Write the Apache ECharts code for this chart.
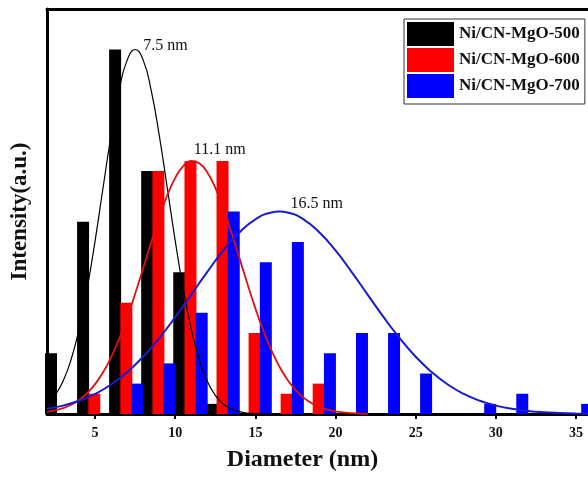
<!DOCTYPE html>
<html>
<head>
<meta charset="utf-8">
<script src="https://cdn.jsdelivr.net/npm/echarts@6/dist/echarts.min.js"></script>
<style>
  html, body { margin: 0; padding: 0; background: #fff; }
  #chart { width: 588px; height: 480px; }
</style>
</head>
<body>
<div id="chart"></div>
<script>
// ---- data ----
const seriesNames = ['Ni/CN-MgO-500', 'Ni/CN-MgO-600', 'Ni/CN-MgO-700'];
const xTicks = [5, 10, 15, 20, 25, 30, 35];

const blackX = [2.25, 4.25, 6.25, 8.25, 10.25, 12.25];
const blackY = [6, 19, 36, 24, 14, 1];
const redX = [4.95, 6.95, 8.95, 10.95, 12.95, 14.95, 16.95, 18.95];
const redY = [2, 11, 24, 25, 25, 8, 2, 3];
const blueX = [7.65, 9.65, 11.65, 13.65, 15.65, 17.65, 19.65, 21.65, 23.65, 25.65, 27.65, 29.65, 31.65, 33.65, 35.7];
const blueY = [3, 5, 10, 20, 15, 17, 6, 8, 8, 4, 0, 1, 2, 0, 1];

// fitted curves
const blackCurveX = [2, 2.5, 3, 3.5, 4, 4.5, 5, 5.5, 6, 6.5, 7, 7.5, 8, 8.5, 9, 9.5, 10, 10.5, 11, 11.5, 12, 12.5, 13, 13.5, 14, 14.5, 15, 16];
const blackCurveY = [0.98, 1.84, 3.24, 5.36, 8.39, 12.34, 17.1, 22.37, 27.55, 31.97, 34.95, 36, 34.95, 31.97, 27.55, 22.37, 17.1, 12.34, 8.39, 5.36, 3.24, 1.84, 0.98, 0.49, 0.23, 0.1, 0.04, 0.01];
const redCurveX = [2, 2.5, 3, 3.5, 4, 4.5, 5, 5.5, 6, 6.5, 7, 7.5, 8, 8.5, 9, 9.5, 10, 10.5, 11, 11.5, 12, 12.5, 13, 13.5, 14, 14.5, 15, 15.5, 16, 16.5, 17, 17.5, 18, 18.5, 19, 19.5, 20, 20.5, 21, 22];
const redCurveY = [0.21, 0.36, 0.58, 0.91, 1.38, 2.05, 2.95, 4.12, 5.61, 7.41, 9.52, 11.87, 14.39, 16.95, 19.4, 21.58, 23.32, 24.49, 24.99, 24.77, 23.86, 22.34, 20.32, 17.96, 15.42, 12.87, 10.43, 8.22, 6.29, 4.68, 3.38, 2.38, 1.62, 1.08, 0.69, 0.43, 0.26, 0.16, 0.09, 0.02];
const blueCurveX = [2, 3, 4, 5, 6, 7, 8, 9, 10, 11, 12, 13, 14, 15, 16, 16.5, 17, 18, 19, 20, 21, 22, 23, 24, 25, 26, 27, 28, 29, 30, 31, 32, 33, 34, 35, 35.75];
const blueCurveY = [0.51, 0.83, 1.31, 1.98, 2.91, 4.13, 5.66, 7.49, 9.56, 11.79, 14.04, 16.15, 17.93, 19.23, 19.91, 20, 19.91, 19.23, 17.93, 16.15, 14.04, 11.79, 9.56, 7.49, 5.66, 4.13, 2.91, 1.98, 1.31, 0.83, 0.51, 0.3, 0.17, 0.1, 0.05, 0.03];

const peakX = [7.5, 11.1, 16.5];
const peakY = [36, 25, 20];
const peakLabels = ['7.5 nm', '11.1 nm', '16.5 nm'];

// ---- chart ----
const FONT = "'Liberation Serif', 'Times New Roman', 'DejaVu Serif', serif";
const zip = (xs, ys) => xs.map((x, i) => [x, ys[i]]);

const barColors = ['#000000', '#ff0000', '#0000ff'];
const curveColors = ['#000000', '#e01010', '#1a1ad2'];
const curveWidths = [1.2, 1.8, 2];
const labelOffsets = [[8, -4], [1, -11], [11, -8]];

const bars = [zip(blackX, blackY), zip(redX, redY), zip(blueX, blueY)];
const curves = [zip(blackCurveX, blackCurveY), zip(redCurveX, redCurveY), zip(blueCurveX, blueCurveY)];

const series = [];
bars.forEach((d, i) => {
  series.push({
    name: seriesNames[i],
    type: 'bar',
    data: d,
    barWidth: 12,
    barGap: '-100%',
    itemStyle: { color: barColors[i] },
    clip: true,
    z: 2
  });
});
curves.forEach((d, i) => {
  series.push({
    name: seriesNames[i] + ' fit',
    type: 'line',
    data: d,
    smooth: true,
    symbol: 'none',
    lineStyle: { color: curveColors[i], width: curveWidths[i] },
    clip: true,
    z: 3,
    markPoint: {
      symbol: 'circle',
      symbolSize: 0,
      silent: true,
      data: [{ coord: [peakX[i], peakY[i]] }],
      label: {
        show: true,
        formatter: peakLabels[i],
        position: labelOffsets[i],
        align: 'left',
        verticalAlign: 'middle',
        color: '#111',
        fontSize: 16,
        fontFamily: FONT
      }
    }
  });
});

const chart = echarts.init(document.getElementById('chart'), null, { renderer: 'canvas' });
chart.setOption({
  animation: false,
  backgroundColor: '#fff',
  grid: { left: 47, top: 9, right: 0, bottom: 66 },
  legend: {
    data: seriesNames,
    orient: 'vertical',
    left: 404, top: 19,
    itemWidth: 47, itemHeight: 24, itemGap: 2,
    icon: 'rect',
    padding: [3, 5, 6, 3],
    borderColor: '#333', borderWidth: 1,
    backgroundColor: '#fff',
    textStyle: { fontFamily: FONT, fontWeight: 'bold', fontSize: 17, color: '#111' }
  },
  xAxis: [{
    type: 'value',
    min: 2, max: 35.75,
    name: 'Diameter (nm)',
    nameLocation: 'middle',
    nameGap: 34,
    nameTextStyle: { fontFamily: FONT, fontWeight: 'bold', fontSize: 24, color: '#111', padding: [0, 30, 0, 0] },
    axisLine: { show: true, onZero: false, lineStyle: { color: '#000', width: 3 } },
    axisTick: { show: true, customValues: xTicks, length: 5, inside: false, lineStyle: { color: '#000', width: 2 } },
    axisLabel: { customValues: xTicks, margin: 12, fontFamily: FONT, fontWeight: 'bold', fontSize: 14, color: '#111' },
    splitLine: { show: false }
  }, {
    type: 'value',
    position: 'top',
    min: 2, max: 35.75,
    axisLine: { show: true, onZero: false, lineStyle: { color: '#000', width: 3 } },
    axisTick: { show: false },
    axisLabel: { show: false },
    splitLine: { show: false }
  }],
  yAxis: {
    type: 'value',
    min: 0, max: 40,
    name: 'Intensity(a.u.)',
    nameLocation: 'middle',
    nameGap: 15,
    nameTextStyle: { fontFamily: FONT, fontWeight: 'bold', fontSize: 23, color: '#111' },
    axisLine: { show: true, onZero: false, lineStyle: { color: '#000', width: 3 } },
    axisTick: { show: false },
    axisLabel: { show: false },
    splitLine: { show: false }
  },
  series: series
});
</script>
</body>
</html>
